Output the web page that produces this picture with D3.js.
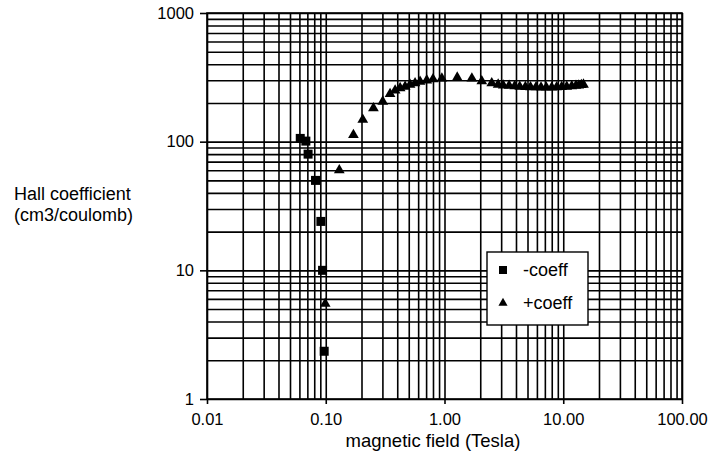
<!DOCTYPE html>
<html>
<head>
<meta charset="utf-8">
<script src="https://cdn.jsdelivr.net/npm/d3@7"></script>
<style>
html,body{margin:0;padding:0;background:#fff;}
svg{display:block;font-family:"Liberation Sans",Arial,Helvetica,sans-serif;}
</style>
</head>
<body>
<svg id="chart" width="711" height="458"></svg>
<script>
// ---- data ----
const xTickValues = [0.01, 0.1, 1, 10, 100];
const xTickLabels = ["0.01", "0.10", "1.00", "10.00", "100.00"];
const yTickValues = [1, 10, 100, 1000];
const yTickLabels = ["1", "10", "100", "1000"];

const negField = [0.061, 0.068, 0.071, 0.082, 0.091, 0.094, 0.097];
const negCoeff = [106, 101, 80, 50, 24, 10, 2.35];

const posField = [0.099, 0.130, 0.171, 0.205, 0.252, 0.302, 0.348, 0.384, 0.423, 0.466,
  0.513, 0.565, 0.623, 0.709, 0.80, 0.95, 1.28, 1.70, 2.06, 2.50,
  2.83, 3.12, 3.5, 3.9, 4.3, 4.8, 5.3, 5.9, 6.5, 7.2,
  8.0, 8.8, 9.7, 10.7, 11.8, 12.8, 13.5, 14.2, 14.8];
const posCoeff = [5.5, 60, 113, 148, 182, 205, 235, 250, 261, 268,
  277, 285, 293, 300, 306, 310, 315, 310, 295, 285,
  278, 274, 272, 270, 268, 266, 265, 265, 264, 264,
  264, 265, 266, 268, 270, 272, 274, 276, 278];

const seriesNames = ["-coeff", "+coeff"];
const xLabel = "magnetic field (Tesla)";
const yLabelLines = ["Hall coefficient", "(cm3/coulomb)"];

// ---- layout ----
const svg = d3.select("#chart");
const L = 207, R = 682, T = 13, B = 399;

const x = d3.scaleLog().domain([0.01, 100]).range([L, R]);
const y = d3.scaleLog().domain([1, 1000]).range([B, T]);

// minor + major grid values
const xGrid = [];
for (let e = -2; e < 2; e++) for (let m = 1; m <= 9; m++) xGrid.push(+(m * Math.pow(10, e)).toPrecision(3));
xGrid.push(100);
const yGrid = [];
for (let e = 0; e < 3; e++) for (let m = 1; m <= 9; m++) yGrid.push(m * Math.pow(10, e));
yGrid.push(1000);

const grid = svg.append("g");
grid.append("g")
  .attr("transform", `translate(0,${B})`)
  .call(d3.axisBottom(x).tickValues(xGrid).tickSize(-(B - T)).tickFormat(""))
  .call(g => g.select(".domain").remove())
  .selectAll("line").attr("stroke", "#000").attr("stroke-width", 1.6);
grid.append("g")
  .attr("transform", `translate(${L},0)`)
  .call(d3.axisLeft(y).tickValues(yGrid).tickSize(-(R - L)).tickFormat(""))
  .call(g => g.select(".domain").remove())
  .selectAll("line").attr("stroke", "#000").attr("stroke-width", 1.6);

// frame
svg.append("rect").attr("x", L).attr("y", T).attr("width", R - L).attr("height", B - T)
  .attr("fill", "none").attr("stroke", "#000").attr("stroke-width", 1.6);

// axes with labels
const xAxis = svg.append("g")
  .attr("transform", `translate(0,${B})`)
  .call(d3.axisBottom(x).tickValues(xTickValues).tickSize(5).tickPadding(9)
    .tickFormat((d, i) => xTickLabels[i]));
xAxis.select(".domain").remove();
xAxis.selectAll("line").attr("stroke", "#000").attr("stroke-width", 1.6);
xAxis.selectAll("text").attr("font-size", 16.5).attr("fill", "#000")
  .attr("font-family", "'Liberation Sans',Arial,sans-serif");

const yAxis = svg.append("g")
  .attr("transform", `translate(${L},0)`)
  .call(d3.axisLeft(y).tickValues(yTickValues).tickSize(7).tickPadding(6)
    .tickFormat((d, i) => yTickLabels[i]));
yAxis.select(".domain").remove();
yAxis.selectAll("line").attr("stroke", "#000").attr("stroke-width", 1.6);
yAxis.selectAll("text").attr("font-size", 16.5).attr("fill", "#000")
  .attr("font-family", "'Liberation Sans',Arial,sans-serif");

// axis titles
svg.append("text").attr("x", 433).attr("y", 447)
  .attr("text-anchor", "middle").attr("font-size", 18.5).text(xLabel);
const yl = svg.append("text").attr("x", 14).attr("font-size", 18);
yLabelLines.forEach((t, i) => yl.append("tspan").attr("x", 14).attr("y", 200 + i * 21).text(t));

// data markers
const sq = 9;
svg.append("g").selectAll("rect").data(negField.map((f, i) => [f, negCoeff[i]]))
  .join("rect")
  .attr("x", d => x(d[0]) - sq / 2).attr("y", d => y(d[1]) - sq / 2)
  .attr("width", sq).attr("height", sq).attr("fill", "#000");

const tri = d3.symbol().type(d3.symbolTriangle).size(50);
svg.append("g").selectAll("path").data(posField.map((f, i) => [f, posCoeff[i]]))
  .join("path")
  .attr("d", tri)
  .attr("transform", d => `translate(${x(d[0])},${y(d[1])})`)
  .attr("fill", "#000");

// legend
const lg = svg.append("g").attr("transform", "translate(487,252)");
lg.append("rect").attr("width", 101).attr("height", 73).attr("fill", "#fff")
  .attr("stroke", "#000").attr("stroke-width", 1.4);
lg.append("rect").attr("x", 12).attr("y", 14).attr("width", 8).attr("height", 8).attr("fill", "#000");
lg.append("path").attr("d", d3.symbol().type(d3.symbolTriangle).size(36))
  .attr("transform", "translate(16,51)").attr("fill", "#000");
lg.append("text").attr("x", 36).attr("y", 24).attr("font-size", 18).text(seriesNames[0]);
lg.append("text").attr("x", 36).attr("y", 57).attr("font-size", 18).text(seriesNames[1]);
</script>
</body>
</html>
